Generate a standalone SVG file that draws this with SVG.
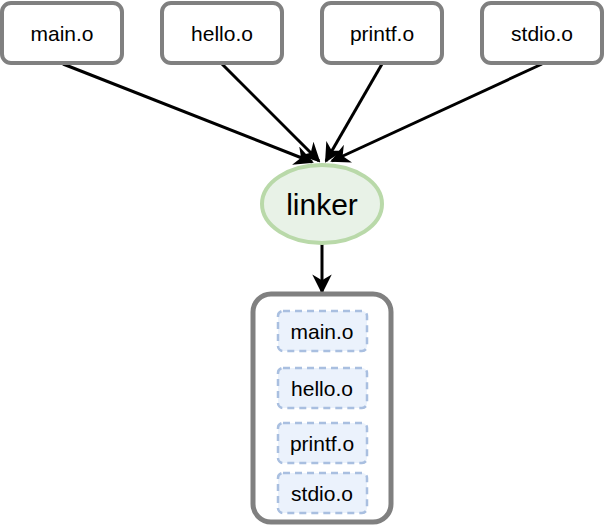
<svg xmlns="http://www.w3.org/2000/svg" width="606" height="527" viewBox="0 0 606 527">
<style>
.box{fill:#fff;stroke:#808080;stroke-width:4}
.lbl{font-family:"Liberation Sans",Arial,sans-serif;font-size:21px;fill:#000;text-anchor:middle;dominant-baseline:central}
.inner{fill:#ebf2fc;stroke:#a9bfe0;stroke-width:2.5;stroke-dasharray:7,5}
.edge{stroke:#000;stroke-width:3;fill:none;marker-end:url(#ah)}
</style>
<defs>
<marker id="ah" viewBox="0 0 10 10" refX="9" refY="5" markerWidth="6.5" markerHeight="6.5" markerUnits="strokeWidth" orient="auto">
<path d="M0,0 L10,5 L0,10 L3,5 z" fill="#000"/>
</marker>
</defs>
<g id="connectors">
<line class="edge" x1="63" y1="64" x2="312" y2="162"/>
<line class="edge" x1="222" y1="64" x2="319" y2="161"/>
<line class="edge" x1="382" y1="64" x2="326" y2="161"/>
<line class="edge" x1="542" y1="64" x2="332" y2="161"/>
<line class="edge" x1="322" y1="244" x2="322" y2="292"/>
</g>
<g id="main_o"><rect class="box" x="2" y="3" width="120" height="60" rx="9"/><text class="lbl" x="62" y="33">main.o</text></g>
<g id="hello_o"><rect class="box" x="162" y="3" width="120" height="60" rx="9"/><text class="lbl" x="222" y="33">hello.o</text></g>
<g id="printf_o"><rect class="box" x="322" y="3" width="120" height="60" rx="9"/><text class="lbl" x="382" y="33">printf.o</text></g>
<g id="stdio_o"><rect class="box" x="482" y="3" width="120" height="60" rx="9"/><text class="lbl" x="542" y="33">stdio.o</text></g>
<g id="linker"><ellipse cx="322" cy="204" rx="60" ry="39" fill="#e8f2e7" stroke="#b9d9a9" stroke-width="4"/><text class="lbl" x="322" y="204" style="font-size:30px">linker</text></g>
<g id="output">
<rect x="253" y="294" width="138" height="228" rx="18" fill="#fff" stroke="#808080" stroke-width="5"/>
<g id="out_main"><rect class="inner" x="278" y="311" width="89" height="40" rx="5"/><text class="lbl" x="322" y="331">main.o</text></g>
<g id="out_hello"><rect class="inner" x="278" y="368" width="89" height="40" rx="5"/><text class="lbl" x="322" y="388">hello.o</text></g>
<g id="out_printf"><rect class="inner" x="278" y="423" width="89" height="40" rx="5"/><text class="lbl" x="322" y="443">printf.o</text></g>
<g id="out_stdio"><rect class="inner" x="278" y="473" width="89" height="40" rx="5"/><text class="lbl" x="322" y="493">stdio.o</text></g>
</g>
</svg>
